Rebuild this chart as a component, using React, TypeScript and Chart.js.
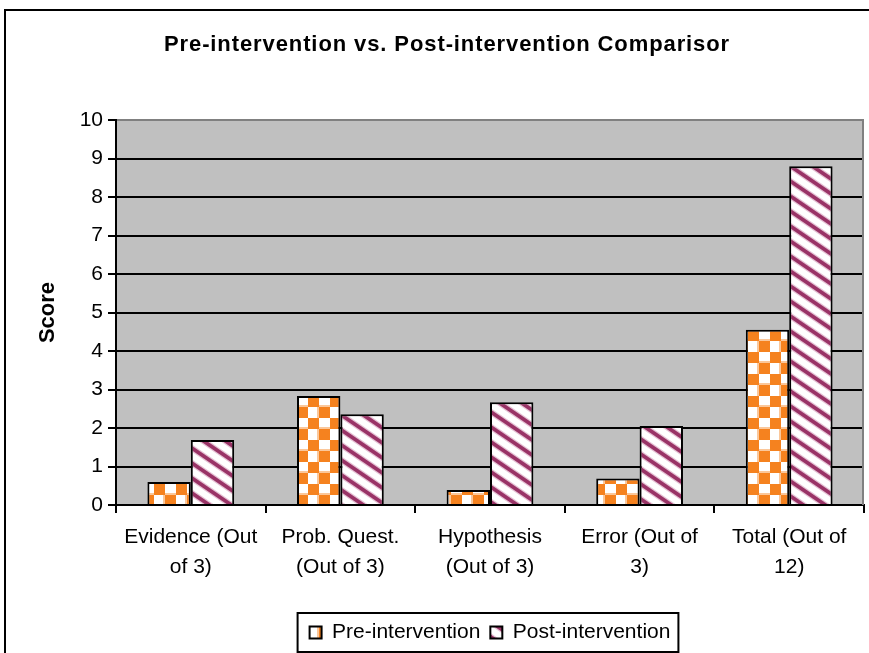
import React, { useEffect, useRef } from "react";
import { Chart, registerables } from "chart.js";

Chart.register(...registerables);

const categories: string[][] = [
  ["Evidence (Out", "of 3)"],
  ["Prob. Quest.", "(Out of 3)"],
  ["Hypothesis", "(Out of 3)"],
  ["Error (Out of", "3)"],
  ["Total (Out of", "12)"],
];
const preIntervention = [0.6, 2.83, 0.39, 0.69, 4.55];
const postIntervention = [1.69, 2.36, 2.67, 2.05, 8.8];
const seriesNames = ["Pre-intervention", "Post-intervention"];
const chartTitle = "Pre-intervention vs. Post-intervention Comparisor";
const yAxisTitle = "Score";
const yMin = 0;
const yMax = 10;
const yStep = 1;

const FONT = "'Liberation Sans', Arial, Helvetica, sans-serif";
const ORANGE = "#F5821F";
const PLUM = "#993366";

function makeChecker(): CanvasPattern | string {
  const c = document.createElement("canvas");
  const cell = 11;
  c.width = cell * 2;
  c.height = cell * 2;
  const g = c.getContext("2d");
  if (!g) return ORANGE;
  g.fillStyle = "#ffffff";
  g.fillRect(0, 0, c.width, c.height);
  g.fillStyle = "#FBC79A";
  g.fillRect(cell - 2, 0, 2, c.height);
  g.fillRect(0, cell - 2, c.width, 2);
  g.fillStyle = ORANGE;
  g.fillRect(0, 0, cell, cell);
  g.fillRect(cell, cell, cell, cell);
  return g.createPattern(c, "repeat") || ORANGE;
}

function makeStripes(): CanvasPattern | string {
  const c = document.createElement("canvas");
  const w = 22;
  const h = 15;
  const t = 4.5;
  c.width = w;
  c.height = h;
  const g = c.getContext("2d");
  if (!g) return PLUM;
  g.fillStyle = "#ffffff";
  g.fillRect(0, 0, w, h);
  for (const [col, extra] of [["#E6C3D5", 1.5], [PLUM, 0]] as [string, number][]) {
    g.fillStyle = col;
    for (const off of [-h, 0, h]) {
      g.beginPath();
      g.moveTo(0, off - extra);
      g.lineTo(w, off + h - extra);
      g.lineTo(w, off + h + t + extra);
      g.lineTo(0, off + t + extra);
      g.closePath();
      g.fill();
    }
  }
  return g.createPattern(c, "repeat") || PLUM;
}

const decorPlugin = {
  id: "decor",
  beforeDraw(chart: any) {
    const { ctx, chartArea } = chart;
    ctx.save();
    ctx.fillStyle = "#C0C0C0";
    ctx.fillRect(chartArea.left, chartArea.top, chartArea.right - chartArea.left, chartArea.bottom - chartArea.top);
    ctx.restore();
  },
  beforeDatasetsDraw(chart: any) {
    const { ctx, chartArea } = chart;
    ctx.save();
    ctx.strokeStyle = "#808080";
    ctx.lineWidth = 2;
    ctx.beginPath();
    ctx.moveTo(chartArea.right - 1, chartArea.top);
    ctx.lineTo(chartArea.right - 1, chartArea.bottom);
    ctx.stroke();
    ctx.restore();
  },
  afterDraw(chart: any) {
    const { ctx } = chart;
    ctx.save();
    // outer frame
    ctx.fillStyle = "#000";
    ctx.fillRect(4, 9, chart.width, 2);
    ctx.fillRect(4, 9, 2, chart.height);
    // title
    ctx.font = `bold 22px ${FONT}`;
    (ctx as any).letterSpacing = "0.9px";
    ctx.textAlign = "center";
    ctx.textBaseline = "middle";
    ctx.fillStyle = "#000";
    ctx.fillText(chartTitle, 447, 45);
    (ctx as any).letterSpacing = "0px";
    // legend border
    const lg = chart.legend;
    if (lg && lg.legendHitBoxes && lg.legendHitBoxes.length) {
      const hb = lg.legendHitBoxes;
      const last = hb[hb.length - 1];
      const l = hb[0].left - 12;
      const r = last.left + last.width + 8;
      ctx.strokeStyle = "#000";
      ctx.lineWidth = 2;
      ctx.strokeRect(l, lg.top + 1, r - l, lg.height - 2);
    }
    ctx.restore();
  },
};

export default function App() {
  const ref = useRef<HTMLCanvasElement | null>(null);
  useEffect(() => {
    if (!ref.current) return;
    Chart.defaults.font.family = FONT;
    const checker = makeChecker();
    const stripes = makeStripes();
    const chart = new Chart(ref.current, {
      type: "bar",
      data: {
        labels: categories,
        datasets: [
          {
            label: seriesNames[0],
            data: preIntervention,
            backgroundColor: checker as any,
            borderColor: "#000",
            borderWidth: 2,
            categoryPercentage: 0.58,
            barPercentage: 1,
          },
          {
            label: seriesNames[1],
            data: postIntervention,
            backgroundColor: stripes as any,
            borderColor: "#000",
            borderWidth: 2,
            categoryPercentage: 0.58,
            barPercentage: 1,
          },
        ],
      },
      options: {
        animation: false,
        responsive: false,
        maintainAspectRatio: false,
        devicePixelRatio: 1,
        layout: { padding: { left: 30, right: 5, top: 120, bottom: 0 } },
        plugins: {
          title: { display: false },
          tooltip: { enabled: false },
          legend: {
            position: "bottom",
            fullSize: false,
            labels: {
              boxWidth: 12,
              boxHeight: 12,
              padding: 10,
              color: "#000",
              font: { size: 21 },
            },
          },
        },
        scales: {
          x: {
            grid: {
              offset: true,
              drawOnChartArea: false,
              drawTicks: true,
              tickLength: 8,
              color: "#000",
              lineWidth: 2,
            },
            border: { color: "#000", width: 2 },
            ticks: {
              color: "#000",
              font: { size: 21, lineHeight: 30 / 21 },
              padding: 9,
              maxRotation: 0,
              autoSkip: false,
            },
            afterFit: (s: any) => {
              s.height = 107;
            },
          },
          y: {
            min: yMin,
            max: yMax,
            ticks: { stepSize: yStep, color: "#000", font: { size: 21 }, padding: 5 },
            grid: {
              color: (c: any) => (c.tick && c.tick.value === yMax ? "#808080" : "#000"),
              tickColor: "#000",
              lineWidth: 2,
              tickLength: 8,
            },
            border: { color: "#000", width: 2 },
            title: {
              display: true,
              text: yAxisTitle,
              color: "#000",
              font: { size: 22, weight: "bold" },
              padding: { top: 5, bottom: 0 },
            },
            afterFit: (s: any) => {
              s.width = 86;
            },
          },
        },
      },
      plugins: [decorPlugin],
    });
    return () => chart.destroy();
  }, []);
  return (
    <div style={{ position: "fixed", left: 0, top: 0, width: 869, height: 653, background: "#fff" }}>
      <canvas ref={ref} width={869} height={653} style={{ display: "block" }} />
    </div>
  );
}
